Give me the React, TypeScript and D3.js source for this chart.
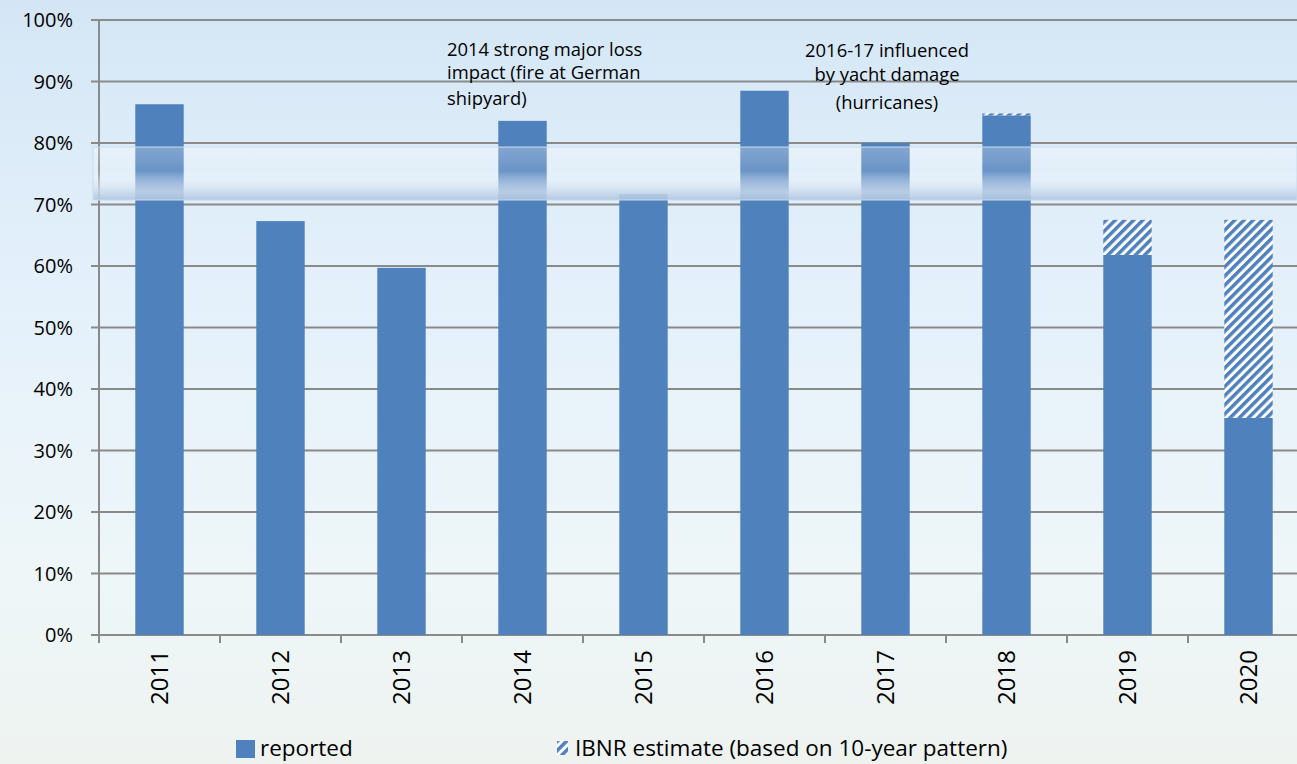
import React from "react";
import * as d3 from "d3";

const years = ["2011", "2012", "2013", "2014", "2015", "2016", "2017", "2018", "2019", "2020"];
const reported = [0.863, 0.673, 0.597, 0.836, 0.717, 0.885, 0.80, 0.845, 0.618, 0.353];
const ibnr = [0, 0, 0, 0, 0, 0, 0, 0.003, 0.057, 0.322];
const yTicks = [0, 0.1, 0.2, 0.3, 0.4, 0.5, 0.6, 0.7, 0.8, 0.9, 1.0];
const note1 = ["2014 strong major loss", "impact (fire at German", "shipyard)"];
const note2 = ["2016-17 influenced", "by yacht damage", "(hurricanes)"];
const legendLabels = ["reported", "IBNR estimate (based on 10-year pattern)"];

const W = 1297, H = 764;
const left = 99, top = 20, bottom = 635;
const band = 121;

export default function App() {
  const x = d3.scaleBand().domain(years).range([left, left + band * years.length]).paddingInner(0.6).paddingOuter(0.3);
  const y = d3.scaleLinear().domain([0, 1]).range([bottom, top]);
  const font = "Open Sans, Carlito, Liberation Sans, sans-serif";
  const blue = "#4f81bd";
  return (
    <svg width={W} height={H} style={{ position: "absolute", left: 0, top: 0, display: "block" }}>
      <defs>
        <linearGradient id="bg" x1="0" y1="0" x2="0" y2="1">
          <stop offset="0" stopColor="#d4e6f5" />
          <stop offset="0.35" stopColor="#e3f0fb" />
          <stop offset="0.75" stopColor="#eef6f8" />
          <stop offset="1" stopColor="#eef3f0" />
        </linearGradient>
        <linearGradient id="bandg" x1="0" y1="0" x2="0" y2="1">
          <stop offset="0" stopColor="#ffffff" stopOpacity="0.3" />
          <stop offset="0.45" stopColor="#ffffff" stopOpacity="0.15" />
          <stop offset="0.62" stopColor="#eaf2fa" stopOpacity="0.45" />
          <stop offset="0.85" stopColor="#c9d9eb" stopOpacity="0.85" />
          <stop offset="1" stopColor="#aec5e0" stopOpacity="0.9" />
        </linearGradient>
        <pattern id="hatch" width="6.5" height="6.5" patternUnits="userSpaceOnUse" patternTransform="rotate(45)">
          <rect width="6.5" height="6.5" fill="#ffffff" />
          <rect width="3.5" height="6.5" fill={blue} />
        </pattern>
      </defs>
      <rect x={0} y={0} width={W} height={H} fill="url(#bg)" />
      {yTicks.map((t) => (
        <g key={t}>
          <line x1={left - 8} x2={W} y1={y(t)} y2={y(t)} stroke="#8a8a8a" strokeWidth={2} />
          <text x={73} y={y(t) + 7} textAnchor="end" fontFamily={font} fontSize={20} fill="#000">
            {d3.format(".0%")(t)}
          </text>
        </g>
      ))}
      <line x1={left} x2={left} y1={top} y2={bottom + 8} stroke="#8a8a8a" strokeWidth={2} />
      {years.map((yr, i) => (
        <line key={"tk" + yr} x1={left + band * (i + 1)} x2={left + band * (i + 1)} y1={bottom} y2={bottom + 8} stroke="#8a8a8a" strokeWidth={2} />
      ))}
      {years.map((yr, i) => (
        <g key={yr}>
          <rect x={x(yr)} y={y(reported[i])} width={x.bandwidth()} height={y(0) - y(reported[i])} fill={blue} />
          {ibnr[i] > 0 && (
            <rect x={x(yr)} y={y(reported[i] + ibnr[i])} width={x.bandwidth()} height={y(reported[i]) - y(reported[i] + ibnr[i])} fill="url(#hatch)" />
          )}
        </g>
      ))}
      <rect x={93} y={147} width={W - 93} height={53} fill="url(#bandg)" stroke="#c9dbec" strokeWidth={1} />
      {years.map((yr) => {
        const cx = (x(yr) as number) + x.bandwidth() / 2;
        return (
          <text key={"l" + yr} transform={`translate(${cx + 8},${650}) rotate(-90)`} textAnchor="end" fontFamily={font} fontSize={24} fill="#000">
            {yr}
          </text>
        );
      })}
      {note1.map((s, i) => (
        <text key={s} x={447} y={[56, 79, 105][i]} fontFamily={font} fontSize={18.4} fill="#000">{s}</text>
      ))}
      {note2.map((s, i) => (
        <text key={s} x={887} y={[57, 81, 109][i]} textAnchor="middle" fontFamily={font} fontSize={18.4} fill="#000">{s}</text>
      ))}
      <rect x={236} y={740} width={19} height={18} fill={blue} />
      <text x={260} y={756} fontFamily={font} fontSize={22.5} fill="#000">{legendLabels[0]}</text>
      <rect x={557} y={741} width={11} height={14} fill="url(#hatch)" />
      <text x={575} y={756} fontFamily={font} fontSize={22.5} fill="#000">{legendLabels[1]}</text>
    </svg>
  );
}
